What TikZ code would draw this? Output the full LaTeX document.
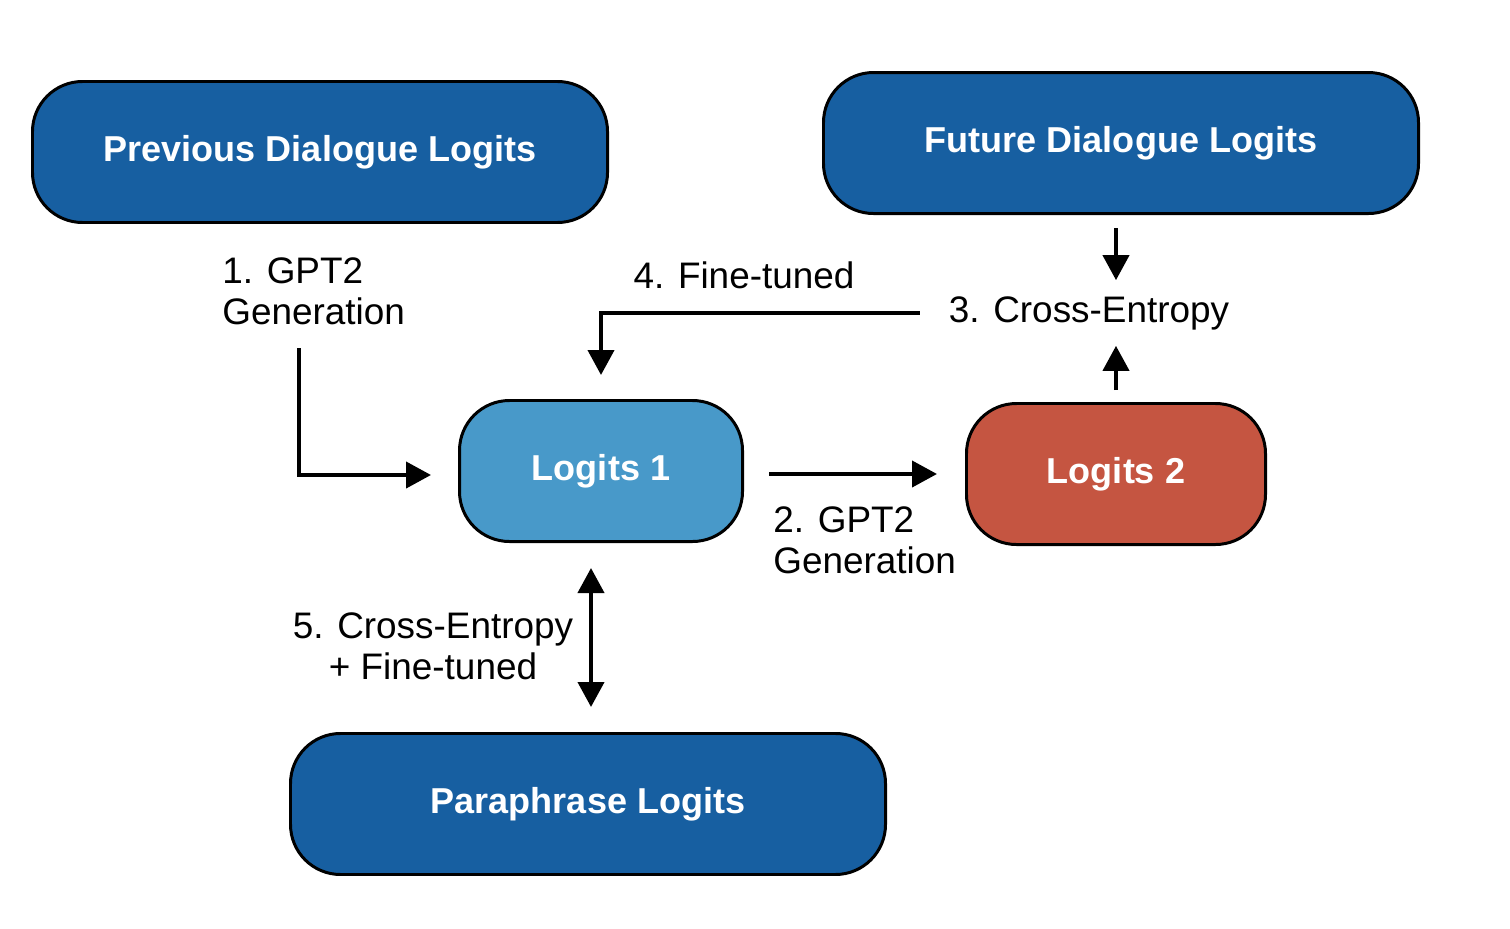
\documentclass[tikz,border=0pt]{standalone}
\usepackage{fontspec}
\setmainfont{Liberation Sans}
\usetikzlibrary{arrows.meta,positioning}
\definecolor{darkblue}{RGB}{23,95,161}
\definecolor{lightblue}{RGB}{72,153,201}
\definecolor{brickred}{RGB}{197,85,65}

\begin{document}
\begin{tikzpicture}[
  box/.style={draw, line width=1.7pt, rounded corners=1cm, align=center, minimum height=2.82cm, text=white, font=\fontsize{20.5}{24}\selectfont\bfseries},
  lbl/.style={font=\fontsize{21}{23.5}\selectfont, inner sep=0pt},
  flow/.style={-{Triangle[length=0.5cm, width=0.52cm]}, line width=2.3pt},
  flowboth/.style={{Triangle[length=0.5cm, width=0.52cm]}-{Triangle[length=0.5cm, width=0.52cm]}, line width=2.3pt}
]
\useasboundingbox (0,0) rectangle (30.2,-18.56);
\node[box, fill=darkblue, minimum width=11.5cm] (prev) at (6.40,-3.04) {Previous Dialogue Logits};
\node[box, fill=lightblue, minimum width=5.66cm] (logits1) at (12.02,-9.42) {Logits 1};
\node[box, fill=brickred, minimum width=5.98cm, right=4.42cm of logits1, yshift=-0.06cm] (logits2) {Logits 2};
\node[box, fill=darkblue, minimum width=11.9cm, above=3.74cm of logits2, xshift=0.1cm] (future) {Future Dialogue Logits};
\node[box, fill=darkblue, minimum width=11.9cm, below=3.78cm of logits1, xshift=-0.26cm] (para) {Paraphrase Logits};
% labels
\node[lbl, align=left, anchor=west] (gen1) at (4.44,-5.82) {1. GPT2\\Generation};
\node[lbl, align=left, anchor=west] (gen2) at (15.46,-10.8) {2. GPT2\\Generation};
\node[lbl, minimum height=1.3cm] (ce3) at (21.78,-6.26) {3. Cross-Entropy};
\node[lbl] (ft4) at (14.88,-5.5) {4. Fine-tuned};
\node[lbl, align=center] (ce5) at (8.66,-12.92) {5. Cross-Entropy\\+ Fine-tuned};
\coordinate (start1) at (5.98,-6.96);
% connectors
\draw[flow, shorten >=0.54cm] (start1) |- ([yshift=-0.08cm]logits1.west);
\draw[flow, shorten <=0.5cm, shorten >=0.56cm] (logits1.east |- logits2.west) -- (logits2.west);
\draw[flow, shorten <=0.26cm] (future.south -| logits2) -- (ce3.north -| logits2);
\draw[flow, shorten <=0.24cm] (logits2.north) -- (ce3.south -| logits2);
\draw[flow, shorten <=0.58cm, shorten >=0.48cm] (ce3.west) -| (logits1.north);
\draw[flowboth, shorten <=0.5cm, shorten >=0.5cm] ([xshift=0.06cm]logits1.south -| para) -- ([xshift=0.06cm]para.north);
\end{tikzpicture}
\end{document}
